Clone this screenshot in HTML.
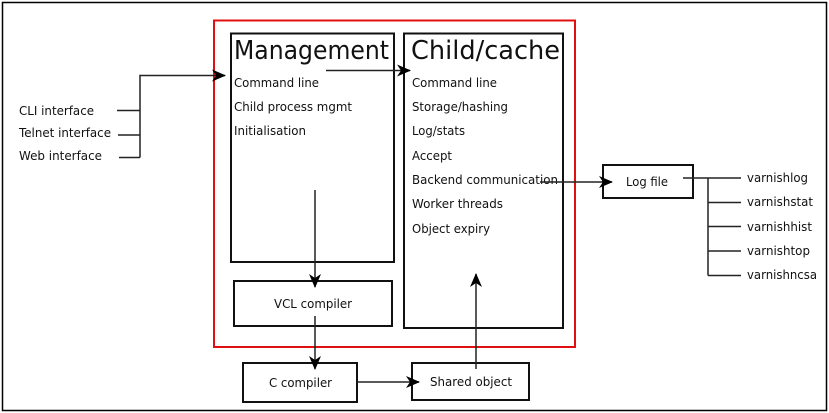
<!DOCTYPE html>
<html><head><style>
html,body{margin:0;padding:0;background:#fff;}
svg{display:block;}
text{font-family:"DejaVu Sans","Liberation Sans",sans-serif;fill:#111;}
</style></head><body>
<svg width="829" height="413" viewBox="0 0 829 413" xmlns="http://www.w3.org/2000/svg">
<defs>
<marker id="a" viewBox="0 0 14 12" refX="13" refY="6" markerWidth="14" markerHeight="12" markerUnits="userSpaceOnUse" orient="auto">
<path d="M0,0 L14,6 L0,12 L4,6 z" fill="#000"/>
</marker>
</defs>
<rect x="2.5" y="2.5" width="824" height="408" fill="#fff" stroke="#000" stroke-width="1.5"/>
<rect x="214" y="20.5" width="361" height="326.5" fill="none" stroke="#e01010" stroke-width="2"/>
<g fill="#fff" stroke="#111" stroke-width="2">
<rect x="231" y="33.5" width="163" height="228.5"/>
<rect x="404" y="33.5" width="159" height="294.5"/>
<rect x="234" y="281" width="158" height="45"/>
<rect x="243" y="363" width="114" height="39"/>
<rect x="412" y="363" width="117" height="37"/>
<rect x="603" y="165" width="90" height="33"/>
</g>
<text x="234" y="59" font-size="26" textLength="155" lengthAdjust="spacingAndGlyphs">Management</text>
<text x="411" y="59" font-size="26" textLength="149" lengthAdjust="spacingAndGlyphs">Child/cache</text>
<g font-size="12.8">
<text x="234" y="87" textLength="85" lengthAdjust="spacingAndGlyphs">Command line</text>
<text x="234" y="111" textLength="118" lengthAdjust="spacingAndGlyphs">Child process mgmt</text>
<text x="234" y="135" textLength="72" lengthAdjust="spacingAndGlyphs">Initialisation</text>
<text x="412" y="87" textLength="85" lengthAdjust="spacingAndGlyphs">Command line</text>
<text x="412" y="111" textLength="96" lengthAdjust="spacingAndGlyphs">Storage/hashing</text>
<text x="412" y="135" textLength="53" lengthAdjust="spacingAndGlyphs">Log/stats</text>
<text x="412" y="160" textLength="40" lengthAdjust="spacingAndGlyphs">Accept</text>
<text x="412" y="184" textLength="146" lengthAdjust="spacingAndGlyphs">Backend communication</text>
<text x="412" y="208" textLength="91" lengthAdjust="spacingAndGlyphs">Worker threads</text>
<text x="412" y="233" textLength="78" lengthAdjust="spacingAndGlyphs">Object expiry</text>
<text x="19" y="115" textLength="75" lengthAdjust="spacingAndGlyphs">CLI interface</text>
<text x="19" y="137" textLength="92" lengthAdjust="spacingAndGlyphs">Telnet interface</text>
<text x="19" y="160" textLength="83" lengthAdjust="spacingAndGlyphs">Web interface</text>
<text x="274" y="308" textLength="78" lengthAdjust="spacingAndGlyphs">VCL compiler</text>
<text x="269" y="387" textLength="63" lengthAdjust="spacingAndGlyphs">C compiler</text>
<text x="430" y="386" textLength="82" lengthAdjust="spacingAndGlyphs">Shared object</text>
<text x="626" y="186" textLength="42" lengthAdjust="spacingAndGlyphs">Log file</text>
<text x="747" y="182" textLength="61" lengthAdjust="spacingAndGlyphs">varnishlog</text>
<text x="747" y="206" textLength="66" lengthAdjust="spacingAndGlyphs">varnishstat</text>
<text x="747" y="231" textLength="65" lengthAdjust="spacingAndGlyphs">varnishhist</text>
<text x="747" y="255" textLength="63" lengthAdjust="spacingAndGlyphs">varnishtop</text>
<text x="747" y="279" textLength="70" lengthAdjust="spacingAndGlyphs">varnishncsa</text>
</g>
<g stroke="#222" stroke-width="1.5" fill="none">
<path d="M117,110.5 H140 M118,135 H140 M119,157.5 H140 M140,157.5 V75.5 H225" marker-end="url(#a)"/>
<path d="M326,70.5 H410" marker-end="url(#a)"/>
<path d="M315,190 V287" marker-end="url(#a)"/>
<path d="M315,316 V369" marker-end="url(#a)"/>
<path d="M357,382 H419" marker-end="url(#a)"/>
<path d="M476,369 V274" marker-end="url(#a)"/>
<path d="M540,182 H612" marker-end="url(#a)"/>
<path d="M683,178 H741 M708,178 V275.5 M708,202.5 H741 M708,226.5 H741 M708,251 H741 M708,275.5 H741"/>
</g>
</svg>
</body></html>
